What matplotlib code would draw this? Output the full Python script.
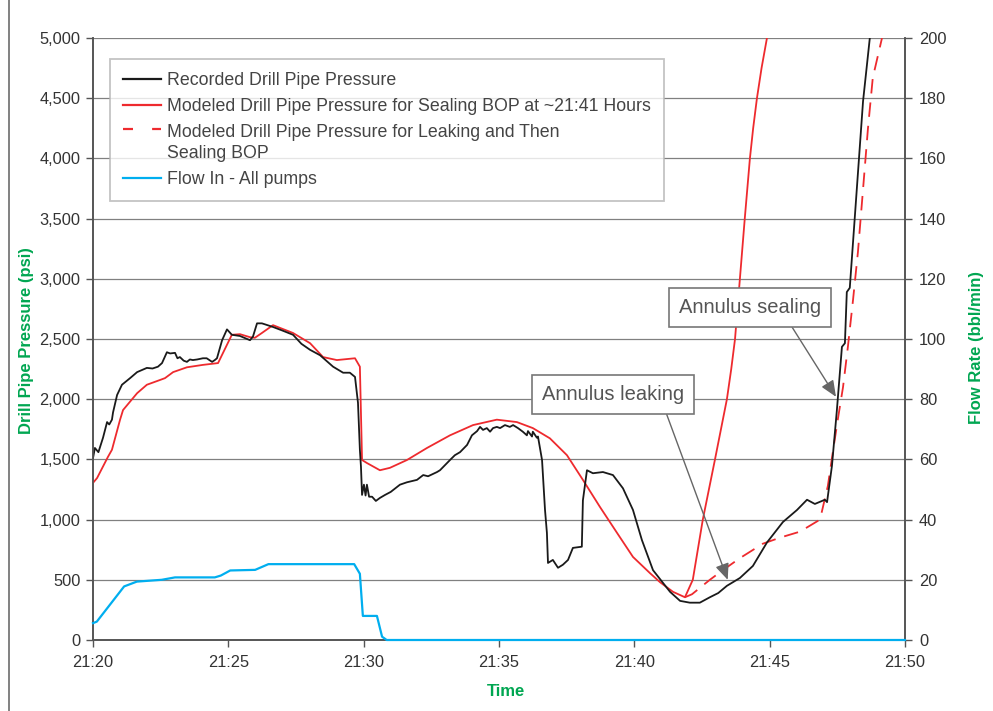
import numpy as np
import matplotlib as mpl

mpl.use("Agg")

import matplotlib.pyplot as plt
from matplotlib.lines import Line2D
from matplotlib.patches import Rectangle
from matplotlib.legend_handler import HandlerLine2D

plt.rcParams["font.family"] = ["Liberation Sans", "DejaVu Sans"]

# ---------------- data (minutes after 21:20) ----------------
tick_minutes = [0, 5, 10, 15, 20, 25, 30]
tick_labels = ["21:20", "21:25", "21:30", "21:35", "21:40", "21:45", "21:50"]

rec_t = [0.0, 0.07, 0.2, 0.37, 0.52, 0.6, 0.70, 0.74, 0.89, 1.07, 1.37, 1.63, 1.99, 2.2, 2.40,
         2.55, 2.73, 2.85, 3.03, 3.12, 3.21, 3.35, 3.47, 3.58, 3.69, 3.85, 4.06, 4.2, 4.40, 4.5,
         4.58, 4.77, 4.95, 5.13, 5.43, 5.80, 5.91, 6.06, 6.24, 6.65, 7.0, 7.39, 7.7, 8.02, 8.39,
         8.87, 9.24, 9.49, 9.68, 9.79, 9.86, 9.90, 9.94, 10.01, 10.07, 10.12, 10.2, 10.31, 10.45,
         10.6, 10.79, 11.0, 11.34, 11.6, 11.97, 12.2, 12.38, 12.71,
         12.82, 13.19, 13.37, 13.56, 13.82, 14.0, 14.19, 14.30, 14.41, 14.55, 14.67, 14.78,
         14.92, 15.04, 15.22, 15.40, 15.52, 15.70, 15.88, 16.03, 16.07, 16.22, 16.25, 16.40,
         16.44, 16.59, 16.70, 16.77, 16.81, 16.99, 17.18, 17.36, 17.55, 17.73, 18.06, 18.10,
         18.25, 18.47, 18.84, 19.21, 19.58, 19.95, 20.28, 20.69, 21.32, 21.69, 22.05, 22.42,
         22.79, 23.1, 23.42, 23.90, 24.38, 24.90, 25.49, 26.01, 26.38, 26.67, 27.04, 27.12,
         27.30, 27.48, 27.67, 27.78, 27.85, 27.96, 28.22, 28.45, 28.70]
rec_p = [1510, 1595, 1560, 1680, 1810, 1790, 1830, 1890, 2035, 2120, 2175, 2225, 2260, 2255, 2270,
         2300, 2390, 2380, 2385, 2340, 2350, 2320, 2310, 2330, 2325, 2330, 2340, 2340, 2310, 2325,
         2340, 2490, 2580, 2535, 2525, 2490, 2520, 2630, 2630, 2600, 2570, 2535, 2460, 2410, 2365,
         2270, 2220, 2220, 2185, 1970, 1580, 1440, 1205, 1290, 1200, 1290, 1190, 1190, 1155,
         1180, 1205, 1230, 1290, 1310, 1330, 1370, 1360, 1395,
         1410, 1495, 1535, 1560, 1620, 1700, 1735, 1770, 1745, 1760, 1730, 1760,
         1770, 1760, 1785, 1770, 1785, 1760, 1730, 1700, 1735, 1690, 1730, 1680,
         1690, 1495, 1080, 890, 640, 665, 600, 625, 665, 765, 775, 1160,
         1410, 1385, 1395, 1370, 1260, 1080, 830, 580, 400, 325, 310, 310,
         355, 390, 450, 515, 615, 810, 980, 1080, 1165, 1130, 1165, 1145,
         1445, 1900, 2435, 2465, 2890, 2925, 3745, 4475, 5000]

seal_t = [0.0, 0.15, 0.55, 0.70, 1.0, 1.11, 1.63, 1.99, 2.48, 2.66, 2.96, 3.47, 4.06, 4.62, 5.13,
          5.43, 5.80, 5.98, 6.24, 6.65, 7.39, 8.02, 8.50, 9.01, 9.68, 9.86, 9.94, 10.12, 10.60,
          10.97, 11.60, 12.34, 13.19, 14.04, 14.92, 15.66, 16.25, 16.88, 17.51, 18.10, 18.73,
          19.36, 19.95, 20.58, 20.95, 21.43, 21.87, 22.16, 22.53, 22.98, 23.2, 23.42, 23.58,
          23.72, 23.90, 24.08, 24.27, 24.39, 24.53, 24.70, 24.90]
seal_p = [1305, 1345, 1520, 1580, 1830, 1910, 2050, 2120, 2160, 2175, 2225, 2265, 2285, 2300, 2535,
          2540, 2515, 2510, 2550, 2615, 2550, 2465, 2350, 2325, 2340, 2270, 1495, 1470, 1410,
          1430, 1495, 1595, 1700, 1785, 1830, 1810, 1760, 1675, 1535, 1330, 1105,
          890, 690, 555, 480, 400, 355, 500, 1000, 1500, 1750, 2000, 2250,
          2500, 3000, 3500, 4000, 4250, 4500, 4750, 5000]

leak_t = [21.87, 22.13, 22.79, 23.27, 23.90, 24.75, 25.38, 26.12, 26.86, 27.15, 27.34, 27.52,
          27.71, 27.89, 28.08, 28.26, 28.45, 28.63, 28.81, 29.15]
leak_p = [355, 380, 500, 580, 680, 800, 850, 900, 1000, 1280, 1570, 1835,
          2100, 2435, 2825, 3220, 3745, 4245, 4670, 5000]

flow_t = [0.0, 0.14, 1.15, 1.62, 2.54, 3.03, 4.5, 4.72, 5.07, 5.99, 6.48, 9.65, 9.86, 9.97,
          10.49, 10.68, 10.85, 30.0]
flow_q = [5.6, 6.1, 17.8, 19.4, 20.0, 20.8, 20.8, 21.4, 23.1, 23.3, 25.2, 25.2, 22.0, 8.0,
          8.0, 1.1, 0.0, 0.0]

# ---------------- style ----------------
C_REC = "#1a1a1a"
C_RED = "#ee2a2e"
C_BLUE = "#00aeef"
C_GREEN = "#00a651"
C_GRID = "#808080"
C_SPINE = "#555555"
C_TEXT = "#333333"


class TopLineHandler(HandlerLine2D):
    # put the handle next to the first line of a two-line label
    def create_artists(self, legend, orig_handle, xdescent, ydescent, width, height, fontsize, trans):
        arts = super().create_artists(legend, orig_handle, xdescent, ydescent, width, height,
                                      fontsize, trans)
        for a in arts:
            a.set_ydata(np.asarray(a.get_ydata()) + fontsize * 0.8)
        return arts


fig = plt.figure(figsize=(9.93, 7.11), dpi=100)
fig.add_artist(Rectangle((9 / 993, -0.1), 1.2, 1.1 + (1 - 10 / 711), transform=fig.transFigure,
                         fill=False, edgecolor="#777777", lw=1.3))

ax = fig.add_axes([93 / 993, 1 - 640 / 711, 812 / 993, 602 / 711])
ax2 = ax.twinx()

ax.set_xlim(0, 30)
ax.set_ylim(0, 5000)
ax2.set_ylim(0, 200)

ax.set_yticks(np.arange(0, 5001, 500))
ax.set_yticklabels([f"{v:,}" for v in range(0, 5001, 500)])
ax2.set_yticks(np.arange(0, 201, 20))
ax.set_xticks(tick_minutes)
ax.set_xticklabels(tick_labels)

ax.grid(axis="y", color=C_GRID, lw=0.9, zorder=0)
ax.set_axisbelow(True)

for a in (ax, ax2):
    for s in a.spines.values():
        s.set_color(C_SPINE)
        s.set_linewidth(1.2)
    a.spines["top"].set_visible(False)
    a.tick_params(colors=C_SPINE, labelcolor=C_TEXT, labelsize=11.8, length=5, width=1, direction="out")
ax.tick_params(axis="x", pad=6)
ax.tick_params(axis="y", pad=4)
ax2.tick_params(axis="y", pad=5)

ax.plot(rec_t, rec_p, color=C_REC, lw=1.3, zorder=4)
ax.plot(seal_t, seal_p, color=C_RED, lw=1.3, zorder=3)
ax.plot(leak_t, leak_p, color=C_RED, lw=1.3, dashes=(8, 5), zorder=3)
ax2.plot(flow_t, flow_q, color=C_BLUE, lw=1.6, zorder=3, clip_on=False)

# legend
leak_handle = Line2D([], [], color=C_RED, lw=1.6, dashes=(4.5, 8.6))
handles = [
    Line2D([], [], color=C_REC, lw=1.6),
    Line2D([], [], color=C_RED, lw=1.6),
    leak_handle,
    Line2D([], [], color=C_BLUE, lw=1.6),
]
labels = [
    "Recorded Drill Pipe Pressure",
    "Modeled Drill Pipe Pressure for Sealing BOP at ~21:41 Hours",
    "Modeled Drill Pipe Pressure for Leaking and Then\nSealing BOP",
    "Flow In - All pumps",
]
leg = ax2.legend(handles, labels, loc="upper left", bbox_to_anchor=(17 / 812, 1 - 21 / 602),
                 borderaxespad=0, fontsize=12.8, frameon=True, fancybox=False,
                 handlelength=2.1, handletextpad=0.35, labelspacing=0.5, borderpad=0.75,
                 handler_map={leak_handle: TopLineHandler()})
leg.get_frame().set_edgecolor("#b5b5b5")
leg.get_frame().set_linewidth(1.3)
for txt in leg.get_texts():
    txt.set_color("#444444")
    txt.set_linespacing(1.32)

# annotations
arrow_kw = dict(arrowstyle="-|>,head_length=0.7,head_width=0.3", color="#666666", lw=1.0,
                mutation_scale=14, shrinkA=0, shrinkB=0)
box_kw = dict(boxstyle="square,pad=0.5", facecolor="white", edgecolor="#777777", lw=1.2)
ax2.annotate("Annulus leaking", xy=(23.45, 500 / 25), xytext=(19.21, 81.7),
             textcoords="data", fontsize=14.5, color="#555555", ha="center", va="center",
             bbox=box_kw, arrowprops=dict(relpos=(0.85, 0.0), **arrow_kw), zorder=6)
ax2.annotate("Annulus sealing", xy=(27.45, 2020 / 25), xytext=(24.27, 110.6),
             textcoords="data", fontsize=14.5, color="#555555", ha="center", va="center",
             bbox=box_kw, arrowprops=dict(relpos=(0.75, 0.0), **arrow_kw), zorder=6)

fig.text(27 / 993, 1 - 341 / 711, "Drill Pipe Pressure (psi)", rotation=90, ha="center", va="center",
         color=C_GREEN, fontsize=12, fontweight="bold")
fig.text(976 / 993, 1 - 347 / 711, "Flow Rate (bbl/min)", rotation=90, ha="center", va="center",
         color=C_GREEN, fontsize=12, fontweight="bold")
fig.text(506 / 993, 1 - 692 / 711, "Time", ha="center", va="center",
         color=C_GREEN, fontsize=12, fontweight="bold")

fig.savefig("out.png", dpi=100)
